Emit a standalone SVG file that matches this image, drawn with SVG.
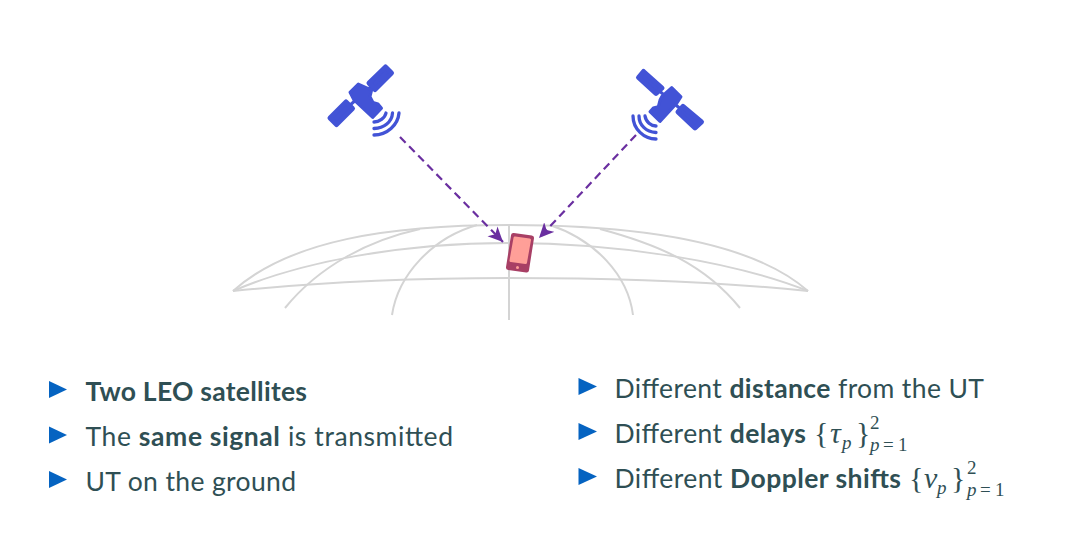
<svg xmlns="http://www.w3.org/2000/svg" width="1078" height="540" viewBox="0 0 1078 540">
<style>
.g{fill:none;stroke:#d4d4d4;stroke-width:2}
.p{fill:#4253d6;stroke:#4253d6;stroke-width:5;stroke-linejoin:round}
.sat{fill:#4253d6;stroke:#4253d6;stroke-width:3;stroke-linejoin:round}
.a{fill:none;stroke:#4253d6;stroke-width:3}
.w{fill:none;stroke:#4253d6;stroke-width:3.300;stroke-linecap:round}
.c{fill:none;stroke:#6a2fa0;stroke-width:2.200;stroke-dasharray:8 5}
.b{fill:#0563c1}
.t{font-family:Lato,"Liberation Sans",sans-serif;font-size:26.500px;fill:#2f4f54}
.s{font-weight:700}
.m{font-family:"Liberation Serif",serif;fill:#2f4f54;font-size:30px}
.i{font-style:italic}
.sm{font-size:19px}
</style>
<defs>
<marker id="ah" markerUnits="userSpaceOnUse" markerWidth="18" markerHeight="16" refX="15" refY="7" orient="auto">
<path d="M0 0L15 7L0 14L4 7Z" fill="#6a2fa0"/>
</marker>
</defs>
<g id="globe">
<path class="g" d="M233 291C290 240 390 225 509 225C630 225 750 240 808 291"/>
<path class="g" d="M233 291C300 262 400 243 509 243C620 243 735 262 808 291"/>
<path class="g" d="M233 291C320 282 410 278 509 278C610 278 720 282 808 291"/>
<path class="g" d="M285 308C320 265 370 240 420 229"/>
<path class="g" d="M392 315C398 275 432 238 477 225"/>
<path class="g" d="M550 225C595 240 628 275 633 315"/>
<path class="g" d="M600 229C660 245 705 265 740 308"/>
<path class="g" d="M509 225V320"/>
</g>
<g id="connectors">
<path class="c" d="M400 137L503 242" marker-end="url(#ah)"/>
<path class="c" d="M636 135L539 238" marker-end="url(#ah)"/>
</g>
<g id="satellite-left">
<path class="a" d="M341 113L381 78"/>
<path class="p" d="M385.500 67L391.500 73L375 89.500L369 83Z"/>
<path class="p" d="M346 102L352.500 108.500L336.500 124.500L330 118Z"/>
<path class="sat" d="M358.300 84L350 92.300L354 100L372.700 117.500L381.500 108.300L378 104L373 102.500L370 96.700L371.700 90Z"/>
<path class="w" d="M374 122C379 122 385 118 386 113"/>
<path class="w" d="M374 128.500C384 128 392 122 392.500 113"/>
<path class="w" d="M374 135C387 135 398 125 399 113"/>
</g>
<g id="satellite-right">
<path class="a" d="M650 83L690 117"/>
<path class="p" d="M643.500 71.500L662 88L656 93.500L638.500 77.500Z"/>
<path class="p" d="M683 106.500L701.500 122L695 128L678 112Z"/>
<path class="sat" d="M671.700 87.500L681 96.700L677 103L660 121.500L650 111.700L653.300 108L658.300 106.700L660 100L661.700 96.700Z"/>
<path class="w" d="M656 126C651 126 646 122 645 116"/>
<path class="w" d="M656 132.500C646 132 639 125 639 116"/>
<path class="w" d="M656 139C644 139 633 129 633 116"/>
</g>
<g id="phone">
<path fill="#a83f65" stroke="#a83f65" stroke-width="5" stroke-linejoin="round" d="M513.500 235.500L531.500 238L526.500 270L508.500 267.500Z"/>
<path fill="#ff9f98" stroke="#ff9f98" stroke-width="3" stroke-linejoin="round" d="M515 238L529.500 240L525.500 262.500L511 260.500Z"/>
<circle cx="517.500" cy="267.500" r="1.500" fill="#ff9f98"/>
</g>
<g id="bullets-left">
<path class="b" d="M49 381L67 389.500L49 398Z"/>
<path class="b" d="M49 426.500L67 435L49 443.500Z"/>
<path class="b" d="M49 471L67 479.500L49 488Z"/>
<text class="t s" x="85.500" y="400.500" textLength="221.500">Two LEO satellites</text>
<text class="t" x="85.500" y="446" textLength="367.500">The <tspan class="s">same signal</tspan> is transmitted</text>
<text class="t" x="85.500" y="491" textLength="210.500">UT on the ground</text>
</g>
<g id="bullets-right">
<path class="b" d="M578.500 378L597 386.500L578.500 395Z"/>
<path class="b" d="M578.500 423L597 431.500L578.500 440Z"/>
<path class="b" d="M578.500 468L597 476.500L578.500 485Z"/>
<text class="t" x="614.500" y="398" textLength="369.500">Different <tspan class="s">distance</tspan> from the UT</text>
<text class="t" x="614.500" y="443" textLength="191.500">Different <tspan class="s">delays</tspan></text>
<text class="m" x="814" y="443">{<tspan class="i" x="830">τ</tspan><tspan class="i sm" x="842" y="449">p</tspan><tspan x="856" y="443">}</tspan></text>
<text class="m sm" x="870" y="429">2</text>
<text class="m sm" x="870" y="451"><tspan class="i">p</tspan><tspan x="883">=</tspan><tspan x="898">1</tspan></text>
<text class="t" x="614.500" y="488" textLength="286.500">Different <tspan class="s">Doppler shifts</tspan></text>
<text class="m" x="909" y="488">{<tspan class="i" x="924">ν</tspan><tspan class="i sm" x="937" y="494">p</tspan><tspan x="951" y="488">}</tspan></text>
<text class="m sm" x="967" y="474">2</text>
<text class="m sm" x="967" y="496"><tspan class="i">p</tspan><tspan x="980">=</tspan><tspan x="995">1</tspan></text>
</g>
</svg>
